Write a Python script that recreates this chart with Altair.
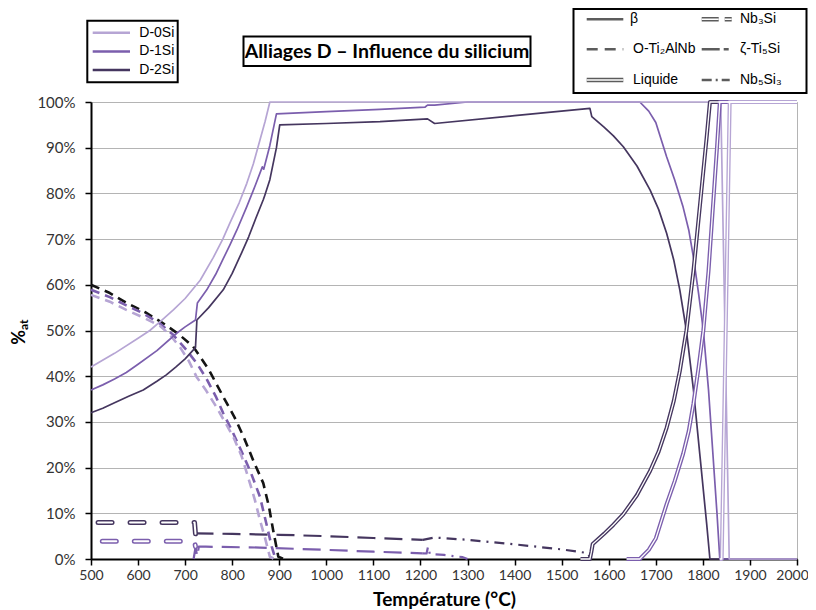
import altair as alt
import pandas as pd

# ---------------- data ----------------
ALLOYS = ["D-0Si", "D-1Si", "D-2Si"]
ALLOY_COLORS = ["#b6a5d4", "#7b5ead", "#45365f"]
O_COLORS = ["#b6a5d4", "#7b5ead", "#141414"]
PHASES = ["β", "O-Ti₂AlNb", "Liquide", "Nb₃Si", "ζ-Ti₅Si", "Nb₅Si₃"]

# beta (solid)
BETA_0_T = [500, 550, 600, 625, 650, 675, 700, 732, 760, 780, 795, 815, 831, 845, 859, 870, 880,
            1200, 1500, 1838, 1856, 2000]
BETA_0_V = [42, 45, 48.3, 50, 52.2, 54.5, 57, 61, 66, 70, 73.5, 78, 82.2, 86.5, 91.7, 95.8, 100,
            100, 100, 100, 0, 0]
BETA_1_T = [500, 525, 550, 575, 600, 640, 682, 700, 722, 726, 746, 765, 780, 795, 810, 831, 850,
            864, 867, 880, 894, 1000, 1114, 1210, 1215, 1230, 1300, 1500, 1666, 1685, 1700, 1723,
            1740, 1758, 1770, 1780, 1791, 1801, 1812, 1822, 1830, 1836, 2000]
BETA_1_V = [37, 38.1, 39.4, 40.8, 42.6, 45.6, 49.4, 50.8, 52.3, 56, 58.9, 62.3, 65.5, 68.7, 72, 77.1, 82,
            85.8, 85.3, 90.5, 97.4, 97.9, 98.4, 98.9, 99.3, 99.3, 100, 100, 100, 98, 95.5, 88,
            83, 77, 72, 66, 58, 50, 37, 22, 10, 0, 0]
BETA_2_T = [500, 525, 550, 580, 611, 640, 660, 680, 700, 717, 722, 725, 750, 781, 800, 820, 835,
            850, 866, 869, 880, 894, 901, 1000, 1114, 1215, 1230, 1400, 1560, 1564, 1590, 1610,
            1631, 1660, 1688, 1706, 1723, 1738, 1751, 1765, 1780, 1794, 1808, 1815, 2000]
BETA_2_V = [32, 33, 34.2, 35.6, 37, 38.9, 40.3, 42, 43.8, 45.7, 46.3, 52.3, 55, 58.9, 62.5, 67, 70.5,
            74.5, 78.6, 79.5, 83, 90, 95, 95.3, 95.7, 96.3, 95.3, 97, 98.6, 96.8, 94.5, 92.6,
            90.2, 86, 80.7, 76.5, 71.3, 65.5, 58.9, 50, 37, 22.4, 7.8, 0, 0]

# O-Ti2AlNb (dashed)
O_0_T = [500, 540, 575, 610, 647, 670, 690, 708, 724, 745, 765, 785, 802, 820, 835, 848, 859, 870, 880, 890]
O_0_V = [57.8, 56.3, 54.5, 52.9, 51, 48.8, 46.2, 43.3, 39.9, 36.8, 33.5, 29.9, 26.8, 22.5, 17.5, 13, 8.5, 4.5, 0.5, 0]
O_1_T = [500, 540, 575, 610, 647, 675, 703, 725, 745, 765, 781, 800, 820, 840, 859, 872, 884, 892]
O_1_V = [58.9, 57.3, 55.5, 53.8, 51.5, 49, 45.7, 42.8, 39.5, 35.6, 31.9, 28, 23.5, 18.8, 13.6, 8, 2.7, 0]
O_2_T = [500, 540, 576, 615, 650, 685, 717, 750, 781, 805, 824, 845, 866, 878, 887, 898, 910]
O_2_V = [60, 58.2, 56, 54, 51.8, 49.3, 46.5, 41.5, 35.5, 31, 26.8, 21.5, 16.6, 11.5, 6.3, 0.5, 0]

# Liquide (double line)
LIQ_0_T = [1836, 1840, 1857, 2000]
LIQ_0_V = [0, 0, 100, 100]
LIQ_1_T = [1638, 1666, 1685, 1700, 1723, 1740, 1758, 1770, 1780, 1791, 1801, 1812, 1822, 1830, 1836, 2000]
LIQ_1_V = [0, 0, 2, 4.5, 12, 17, 23, 28, 34, 42, 50, 63, 78, 90, 100, 100]
LIQ_2_T = [1540, 1560, 1563, 1566, 1590, 1610, 1631, 1660, 1688, 1706, 1723, 1738, 1751, 1765, 1780,
           1794, 1808, 1815, 2000]
LIQ_2_V = [0, 0, 1.5, 3.3, 5.5, 7.5, 9.8, 14, 19.3, 23.5, 28.7, 34.5, 41.1, 50, 63,
           77.6, 92.2, 100, 100]

# Nb3Si (double dashed)
NB3_1_T = [524, 720, 722]
NB3_1_V = [3.9, 3.9, 2.7]
NB3_2_T = [515, 720, 722]
NB3_2_V = [8, 8, 5.5]

# zeta-Ti5Si (long dash)
ZETA_1_T = [718, 722, 726, 729, 744, 859, 1000, 1100, 1205]
ZETA_1_V = [0, 2.5, 0.5, 2.7, 2.7, 2.5, 2.0, 1.6, 1.25]
ZETA_2_T = [722, 800, 900, 1000, 1100, 1205]
ZETA_2_V = [5.6, 5.5, 5.3, 5.0, 4.6, 4.2]

# Nb5Si3 (dash-dot)
NB5_1_T = [1205, 1213, 1216, 1220, 1250, 1290, 1300]
NB5_1_V = [1.25, 1.2, 2.7, 1.1, 0.9, 0.4, 0]
NB5_2_T = [1205, 1230, 1300, 1400, 1500, 1555, 1562]
NB5_2_V = [4.2, 4.7, 4.2, 3.2, 2.1, 1.3, 0]

# drawn darkest alloy first so that the lightest one ends on top (as in the reference)
SERIES = [
    ("β", "D-2Si", BETA_2_T, BETA_2_V), ("β", "D-1Si", BETA_1_T, BETA_1_V), ("β", "D-0Si", BETA_0_T, BETA_0_V),
    ("O-Ti₂AlNb", "D-2Si", O_2_T, O_2_V), ("O-Ti₂AlNb", "D-1Si", O_1_T, O_1_V), ("O-Ti₂AlNb", "D-0Si", O_0_T, O_0_V),
    ("Liquide", "D-2Si", LIQ_2_T, LIQ_2_V), ("Liquide", "D-1Si", LIQ_1_T, LIQ_1_V), ("Liquide", "D-0Si", LIQ_0_T, LIQ_0_V),
    ("Nb₃Si", "D-2Si", NB3_2_T, NB3_2_V), ("Nb₃Si", "D-1Si", NB3_1_T, NB3_1_V),
    ("ζ-Ti₅Si", "D-2Si", ZETA_2_T, ZETA_2_V), ("ζ-Ti₅Si", "D-1Si", ZETA_1_T, ZETA_1_V),
    ("Nb₅Si₃", "D-2Si", NB5_2_T, NB5_2_V), ("Nb₅Si₃", "D-1Si", NB5_1_T, NB5_1_V),
]

rows = []
for s, (phase, alloy, ts, vs) in enumerate(SERIES):
    for i, (t, v) in enumerate(zip(ts, vs)):
        rows.append({"T": t, "pct": v, "alloy": alloy, "phase": phase,
                     "series": f"{s:02d}|" + phase + "|" + alloy, "idx": i})
df = pd.DataFrame(rows)

# ---------------- styles ----------------
FONT = "Lato"
LEG_FONT = "Liberation Sans"
GREY = "#5c5c5c"

x_enc = alt.X("T:Q", scale=alt.Scale(domain=[500, 2000], nice=False, zero=False),
              axis=alt.Axis(values=list(range(500, 2001, 100)), format="d", grid=False,
                            domainColor="black", domainWidth=2, tickColor="black", tickWidth=1.5,
                            tickSize=6, labelFont=FONT, labelFontSize=14, labelColor="#333333",
                            labelPadding=3, labelFlush=False,
                            labelOffset={"condition": {"test": "datum.value == 2000", "value": -5},
                                         "value": 0},
                            title="Température (°C)", titleFont=FONT, titleFontSize=19,
                            titleFontWeight="bold", titleColor="black", titleX=353, titleY=46.5,
                            titleAlign="center", titleBaseline="alphabetic"))
y_enc = alt.Y("pct:Q", scale=alt.Scale(domain=[0, 100], nice=False),
              axis=alt.Axis(values=list(range(0, 101, 10)), grid=True, gridColor="#b4b4b4",
                            gridWidth=1, domainColor="black", domainWidth=2, tickColor="black",
                            tickWidth=1.5, tickSize=6, labelFont=FONT, labelFontSize=15,
                            labelColor="#333333", labelPadding=10,
                            labelExpr="datum.value + '%'", title=None))


def phase_layer(phase, width, dash=None, colors=ALLOY_COLORS, override=None, cap="butt"):
    kw = dict(strokeWidth=width, strokeCap=cap, strokeJoin="round")
    if dash:
        kw["strokeDash"] = dash
    if override:
        kw["color"] = override
    ch = alt.Chart(df).transform_filter(alt.datum.phase == phase).mark_line(**kw)
    enc = dict(x=x_enc, y=y_enc, detail="series:N", order="idx:Q")
    if not override:
        enc["color"] = alt.Color("alloy:N", scale=alt.Scale(domain=ALLOYS, range=colors), legend=None)
    return ch.encode(**enc)


layers = [
    phase_layer("O-Ti₂AlNb", 2.6, [9, 6], colors=O_COLORS),
    phase_layer("ζ-Ti₅Si", 2.2, [18, 9]),
    phase_layer("Nb₅Si₃", 2.2, [10, 6, 2, 6]),
    phase_layer("Nb₃Si", 5, [14, 18], cap="round"),
    phase_layer("Nb₃Si", 2, [14, 18], override="white", cap="round"),
    phase_layer("β", 1.7),
    phase_layer("Liquide", 4),
    phase_layer("Liquide", 1.3, override="white"),
]

one = pd.DataFrame({"k": [0]})


def box(x1, x2, y1, y2):
    return alt.Chart(one).mark_rect(fill="white", stroke="black", strokeWidth=2).encode(
        x=alt.value(x1), x2=alt.value(x2), y=alt.value(y1), y2=alt.value(y2))


def seg(x1, x2, y, color, width, dash=None, cap="butt"):
    kw = dict(color=color, strokeWidth=width, strokeCap=cap)
    if dash:
        kw["strokeDash"] = dash
    return alt.Chart(one).mark_rule(**kw).encode(x=alt.value(x1), x2=alt.value(x2), y=alt.value(y))


def label(x, y, text, size=14, font=LEG_FONT, weight="normal", align="left", angle=0, color="black",
          baseline="middle"):
    return alt.Chart(one).mark_text(align=align, baseline=baseline, font=font, fontSize=size,
                                    fontWeight=weight, angle=angle, color=color).encode(
        x=alt.value(x), y=alt.value(y), text=alt.value(text))


# alloy legend (top left)
leg = [box(-3.7, 86.7, -81.3, -19.7)]
for i, (name, col) in enumerate(zip(ALLOYS, ALLOY_COLORS)):
    yy = -69.3 + i * 18.7
    leg.append(seg(1.7, 39, yy, col, 2.5))
    leg.append(label(48.3, yy, name))

# title box
leg.append(box(152.5, 439.5, -65.5, -36))
leg.append(label(296, -50.5, "Alliages D – Influence du silicium", size=19.5, font=FONT, weight="bold",
                 align="center"))

# phase legend (top right)
leg.append(box(482.5, 715.5, -93, -9))
c1a, c1b, c1t = 495.7, 532.3, 540
c2a, c2b, c2t = 610.7, 641, 649
r = [-82.7, -52.7, -22]
leg.append(seg(c1a, c1b, r[0], GREY, 2.5))
leg.append(label(c1t - 1, r[0], PHASES[0]))
leg.append(seg(c1a, c1b, r[1], GREY, 2.5, [11, 7]))
leg.append(label(c1t + 2, r[1], PHASES[1]))
leg.append(seg(c1a, c1b, r[2], GREY, 4.5))
leg.append(seg(c1a, c1b, r[2], "white", 1.4))
leg.append(label(c1t + 2, r[2], PHASES[2]))
leg.append(seg(c2a, c2b, r[0], GREY, 4.5, [17, 6, 7, 40]))
leg.append(seg(c2a, c2b, r[0], "white", 1.4, [17, 6, 7, 40]))
leg.append(label(c2t, r[0], PHASES[3]))
leg.append(seg(c2a, c2b, r[1], GREY, 2.5, [18, 4, 5, 40]))
leg.append(label(c2t, r[1], PHASES[4]))
leg.append(seg(c2a, c2b, r[2], GREY, 2.5, [10, 4, 2, 4, 8, 40]))
leg.append(label(c2t, r[2], PHASES[5]))

# y-axis title "%at"
leg.append(label(-71.5, 228, "%", size=18, font=FONT, weight="bold", align="right", angle=270))
leg.append(label(-67.5, 228, "at", size=12, font=FONT, weight="bold", align="left", angle=270))

chart = alt.layer(*layers, *leg).resolve_scale(color="independent").properties(
    width=706, height=457,
    padding={"left": 83, "top": 94, "right": 11, "bottom": 50},
    autosize=alt.AutoSizeParams(type="none"),
).configure_view(stroke="#b4b4b4", strokeWidth=1)

chart.save("out.html", embed_options={"renderer": "svg", "actions": False})
